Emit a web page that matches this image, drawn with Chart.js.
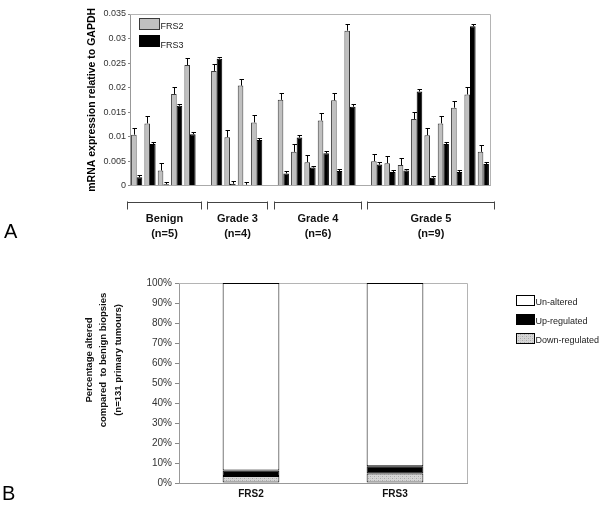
<!DOCTYPE html>
<html><head><meta charset="utf-8">
<script src="https://cdn.jsdelivr.net/npm/chart.js@4.4.0/dist/chart.umd.min.js"></script>
<style>
html,body{margin:0;padding:0;background:#fff;}
#wrap{position:relative;width:600px;height:508px;overflow:hidden;background:#fff;}
#boxA{position:absolute;left:0;top:0;width:600px;height:250px;}
#boxB{position:absolute;left:0;top:250px;width:600px;height:258px;}
</style></head><body>
<div id="wrap">
<div id="boxA"><canvas id="chartA" width="600" height="250"></canvas></div>
<div id="boxB"><canvas id="chartB" width="600" height="258"></canvas></div>
</div>
<script>
// ---------- Panel A data ----------
const groups = ['Benign', 'Grade 3', 'Grade 4', 'Grade 5'];
const groupN = ['(n=5)', '(n=4)', '(n=6)', '(n=9)'];
const groupSizes = [5, 4, 6, 9];
const seriesA = ['FRS2', 'FRS3'];
const frs2 = [0.0104, 0.0127, 0.0031, 0.0187, 0.0246,
              0.0234, 0.0099, 0.0204, 0.0129,
              0.0175, 0.0069, 0.0048, 0.0133, 0.0174, 0.0316,
              0.0050, 0.0046, 0.0042, 0.0136, 0.0103, 0.0127, 0.0159, 0.0186, 0.0069];
const frs2Err = [0.0014, 0.0015, 0.0015, 0.0014, 0.0014,
                 0.0014, 0.0014, 0.0014, 0.0016,
                 0.0013, 0.0016, 0.0015, 0.0015, 0.0015, 0.0014,
                 0.0015, 0.0015, 0.0014, 0.0015, 0.0014, 0.0015, 0.0014, 0.0015, 0.0014];
const frs3 = [0.0017, 0.0085, 0.0003, 0.0163, 0.0105,
              0.0259, 0.0004, 0.0002, 0.0093,
              0.0025, 0.0098, 0.0037, 0.0066, 0.0030, 0.0161,
              0.0043, 0.0028, 0.0031, 0.0192, 0.0016, 0.0085, 0.0028, 0.0325, 0.0044];
const frs3Err = [0.0005, 0.0004, 0.0004, 0.0004, 0.0004,
                 0.0004, 0.0005, 0.0005, 0.0004,
                 0.0005, 0.0005, 0.0004, 0.0004, 0.0005, 0.0005,
                 0.0005, 0.0004, 0.0004, 0.0005, 0.0004, 0.0004, 0.0004, 0.0004, 0.0004];
const yTicksA = ['0', '0.005', '0.01', '0.015', '0.02', '0.025', '0.03', '0.035'];

// ---------- Panel B data ----------
const genesB = ['FRS2', 'FRS3'];
const downReg = [3.5, 4.7];
const upReg = [2.8, 3.7];
const unAltered = [93.7, 91.6];
const yTicksB = ['0%', '10%', '20%', '30%', '40%', '50%', '60%', '70%', '80%', '90%', '100%'];
const titleB = ['Percentage altered', 'compared  to benign biopsies', '(n=131 primary tumours)'];

Chart.defaults.font.family = "'Liberation Sans', Arial, sans-serif";
Chart.defaults.color = '#222';

// build slot arrays (empty slot between groups)
const slotLabels = [], v2 = [], e2 = [], v3 = [], e3 = [], groupSlots = [];
let k = 0;
groups.forEach((g, gi) => {
  if (gi > 0) { slotLabels.push(''); v2.push(null); e2.push(null); v3.push(null); e3.push(null); }
  const start = slotLabels.length;
  for (let i = 0; i < groupSizes[gi]; i++) {
    slotLabels.push(g + ' ' + (i + 1));
    v2.push(frs2[k]); e2.push(frs2Err[k]); v3.push(frs3[k]); e3.push(frs3Err[k]);
    k++;
  }
  groupSlots.push([start, slotLabels.length - 1]);
});

const FONT = "'Liberation Sans', Arial, sans-serif";

const framePlugin = {
  id: 'frame',
  beforeDatasetsDraw(chart) {
    const {ctx, chartArea: a} = chart;
    ctx.save();
    ctx.strokeStyle = '#b4b4b4'; ctx.lineWidth = 1;
    ctx.beginPath();
    ctx.moveTo(a.left, Math.round(a.top) + 0.5);
    ctx.lineTo(Math.round(a.right) + 0.5, Math.round(a.top) + 0.5);
    ctx.lineTo(Math.round(a.right) + 0.5, a.bottom);
    ctx.stroke();
    ctx.restore();
  }
};

const errPlugin = {
  id: 'errbars',
  afterDatasetsDraw(chart) {
    const {ctx, scales: {y}} = chart;
    ctx.save();
    ctx.strokeStyle = '#000'; ctx.lineWidth = 1;
    chart.data.datasets.forEach((ds, di) => {
      const meta = chart.getDatasetMeta(di);
      meta.data.forEach((bar, i) => {
        const v = ds.data[i], e = ds.errors[i];
        if (v == null || e == null) return;
        const x = Math.round(bar.x) + 0.5;
        const yt = Math.round(y.getPixelForValue(v + e)) + 0.5;
        ctx.beginPath();
        ctx.moveTo(x, bar.y); ctx.lineTo(x, yt);
        ctx.moveTo(x - 2, yt); ctx.lineTo(x + 2.5, yt);
        ctx.stroke();
      });
    });
    ctx.restore();
  }
};

const decoA = {
  id: 'decoA',
  afterDraw(chart) {
    const {ctx, chartArea: a, scales: {x}} = chart;
    ctx.save();
    // legend
    const ds = chart.data.datasets;
    [0, 1].forEach(i => {
      const bx = a.left + 9.5, by = a.top + 4.5 + i * 17;
      ctx.fillStyle = ds[i].backgroundColor;
      ctx.fillRect(bx, by, 20, 11);
      ctx.strokeStyle = ds[i].borderColor; ctx.lineWidth = 1;
      ctx.strokeRect(bx, by, 20, 11);
      ctx.fillStyle = '#222';
      ctx.font = '9px ' + FONT;
      ctx.textBaseline = 'middle'; ctx.textAlign = 'left';
      ctx.fillText(ds[i].label, bx + 21, by + 8.5 + i * 1.5);
    });
    // group brackets & labels
    const slotW = x.getPixelForValue(1) - x.getPixelForValue(0);
    ctx.strokeStyle = '#444'; ctx.lineWidth = 1;
    groupSlots.forEach(([s0, s1], gi) => {
      const xl = Math.round(x.getPixelForValue(s0) - slotW / 2 - 3) + 0.5;
      const xr = Math.round(x.getPixelForValue(s1) + slotW / 2 + 4) + 0.5;
      const yl = 202.5;
      ctx.beginPath();
      ctx.moveTo(xl, yl); ctx.lineTo(xr, yl);
      ctx.moveTo(xl, yl - 1); ctx.lineTo(xl, yl + 7);
      ctx.moveTo(xr, yl - 1); ctx.lineTo(xr, yl + 7);
      ctx.stroke();
      const cx = (xl + xr) / 2;
      ctx.fillStyle = '#111';
      ctx.font = 'bold 11px ' + FONT;
      ctx.textAlign = 'center'; ctx.textBaseline = 'middle';
      ctx.fillText(groups[gi], cx, 218.5);
      ctx.fillText(groupN[gi], cx, 234);
    });
    // panel letter
    ctx.fillStyle = '#000';
    ctx.font = '20px ' + FONT;
    ctx.textAlign = 'left'; ctx.textBaseline = 'alphabetic';
    ctx.fillText('A', 4, 238);
    ctx.restore();
  }
};

new Chart(document.getElementById('chartA'), {
  type: 'bar',
  data: {
    labels: slotLabels,
    datasets: [
      {label: seriesA[0], data: v2, errors: e2, backgroundColor: '#c0c0c0', borderColor: '#3a3a3a', borderWidth: 1,
       categoryPercentage: 0.84, barPercentage: 1.0},
      {label: seriesA[1], data: v3, errors: e3, backgroundColor: '#000000', borderColor: '#000000', borderWidth: 1,
       categoryPercentage: 0.84, barPercentage: 1.0}
    ]
  },
  options: {
    responsive: false, animation: false, devicePixelRatio: 1,
    layout: {padding: {left: 82, top: 14, right: 110, bottom: 64}},
    plugins: {legend: {display: false}, tooltip: {enabled: false}},
    scales: {
      x: {
        grid: {display: false, drawTicks: false},
        ticks: {display: false},
        border: {display: true, color: '#aaaaaa'},
        afterFit(s) { s.height = 0.3; }
      },
      y: {
        min: 0, max: 0.035,
        ticks: {stepSize: 0.005, font: {size: 9}, color: '#333', padding: 2,
                callback: (v, i) => yTicksA[i]},
        grid: {display: true, drawOnChartArea: false, drawTicks: true, tickLength: 2, color: '#888'},
        border: {display: true, color: '#999'},
        title: {display: true, text: 'mRNA expression relative to GAPDH', color: '#000',
                font: {size: 10.5, weight: 'bold'}, padding: {top: 4, bottom: 0}},
        afterFit(s) { s.width = 48; }
      }
    }
  },
  plugins: [framePlugin, errPlugin, decoA]
});

// ---------- Panel B ----------
function makePattern() {
  const c = document.createElement('canvas');
  c.width = 4; c.height = 4;
  const g = c.getContext('2d');
  g.fillStyle = '#d6d6d6'; g.fillRect(0, 0, 4, 4);
  g.fillStyle = '#a8a8a8';
  g.fillRect(0, 0, 1, 1); g.fillRect(2, 2, 1, 1);
  g.fillStyle = '#c4c4c4';
  g.fillRect(2, 0, 1, 1); g.fillRect(0, 2, 1, 1);
  return c.getContext('2d').createPattern(c, 'repeat');
}
const downPattern = makePattern();

const decoB = {
  id: 'decoB',
  afterDraw(chart) {
    const {ctx, chartArea: a} = chart;
    ctx.save();
    // y title
    ctx.fillStyle = '#111';
    ctx.font = 'bold 9.5px ' + FONT;
    ctx.textAlign = 'center'; ctx.textBaseline = 'middle';
    const cy = 110;
    titleB.forEach((t, i) => {
      ctx.save();
      ctx.translate(89 + i * 14.5, cy);
      ctx.rotate(-Math.PI / 2);
      ctx.fillText(t, 0, 0);
      ctx.restore();
    });
    // legend (reverse order)
    const ds = chart.data.datasets;
    const order = [2, 1, 0];
    order.forEach((di, j) => {
      const bx = 516.5, by = 45.5 + j * 19;
      ctx.fillStyle = ds[di].backgroundColor;
      ctx.fillRect(bx, by, 18, 10);
      ctx.strokeStyle = '#000'; ctx.lineWidth = 1;
      ctx.strokeRect(bx, by, 18, 10);
      ctx.fillStyle = '#222';
      ctx.font = '9px ' + FONT;
      ctx.textAlign = 'left'; ctx.textBaseline = 'middle';
      ctx.fillText(ds[di].label, bx + 19, by + 7);
    });
    // panel letter
    ctx.fillStyle = '#000';
    ctx.font = '20px ' + FONT;
    ctx.textAlign = 'left'; ctx.textBaseline = 'alphabetic';
    ctx.fillText('B', 2, 250);
    ctx.restore();
  }
};

new Chart(document.getElementById('chartB'), {
  type: 'bar',
  data: {
    labels: genesB,
    datasets: [
      {label: 'Down-regulated', data: downReg, backgroundColor: downPattern, borderColor: '#000', borderWidth: 1, borderSkipped: false},
      {label: 'Up-regulated', data: upReg, backgroundColor: '#000000', borderColor: '#000', borderWidth: 1, borderSkipped: false},
      {label: 'Un-altered', data: unAltered, backgroundColor: '#ffffff', borderColor: '#000', borderWidth: 1, borderSkipped: false}
    ]
  },
  options: {
    responsive: false, animation: false, devicePixelRatio: 1,
    datasets: {bar: {categoryPercentage: 1.0, barPercentage: 0.394}},
    layout: {padding: {left: 0, top: 33, right: 133, bottom: 0}},
    plugins: {legend: {display: false}, tooltip: {enabled: false}},
    scales: {
      x: {
        stacked: true,
        grid: {display: false, drawTicks: false},
        ticks: {font: {size: 10, weight: 'bold'}, color: '#111', padding: 5},
        border: {display: true, color: '#999'},
        afterFit(s) { s.height = 25; }
      },
      y: {
        stacked: true, min: 0, max: 100,
        ticks: {stepSize: 10, font: {size: 10}, color: '#333', padding: 3,
                callback: (v, i) => yTicksB[i]},
        grid: {display: true, drawOnChartArea: false, drawTicks: true, tickLength: 4, color: '#888'},
        border: {display: true, color: '#999'},
        afterFit(s) { s.width = 179; }
      }
    }
  },
  plugins: [framePlugin, decoB]
});
</script>
</body></html>
